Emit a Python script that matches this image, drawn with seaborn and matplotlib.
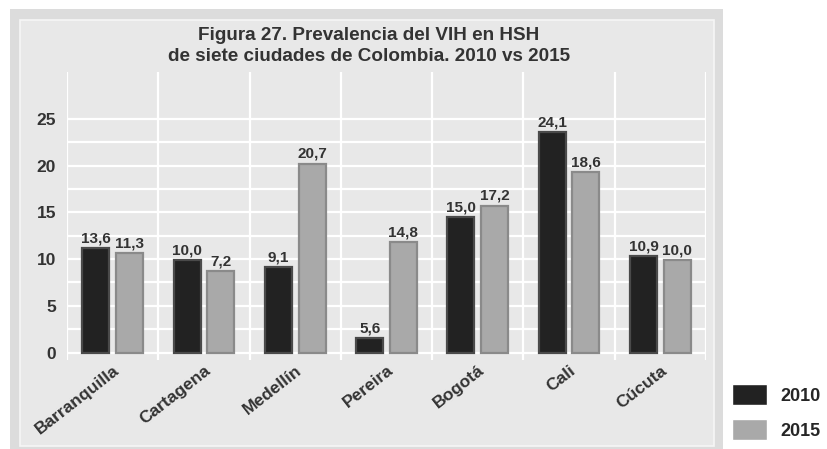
import numpy as np
import pandas as pd
import seaborn as sns
import matplotlib.pyplot as plt
from matplotlib.patches import Rectangle

# ----------------------------
# data
# ----------------------------
ciudades = ["Barranquilla", "Cartagena", "Medellín", "Pereira", "Bogotá", "Cali", "Cúcuta"]
anios = ["2010", "2015"]

# printed labels
etiquetas_2010 = ["13,6", "10,0", "9,1", "5,6", "15,0", "24,1", "10,9"]
etiquetas_2015 = ["11,3", "7,2", "20,7", "14,8", "17,2", "18,6", "10,0"]

# bar heights as drawn in the original (they don't match the labels)
alturas_2010 = [11.2, 9.9, 9.1, 1.5, 14.5, 23.6, 10.3]
alturas_2015 = [10.6, 8.7, 20.2, 11.8, 15.7, 19.3, 9.9]

colores = ["#222222", "#a9a9a9"]
bordes = ["#4a4a4a", "#8a8a8a"]

df = pd.DataFrame({
    "ciudad": ciudades * 2,
    "anio": [anios[0]] * len(ciudades) + [anios[1]] * len(ciudades),
    "valor": alturas_2010 + alturas_2015,
})

sns.set_style("white")
plt.rcParams["font.family"] = ["Liberation Sans", "DejaVu Sans"]
plt.rcParams["font.weight"] = "bold"

W, H = 827, 449
fig = plt.figure(figsize=(W / 100, H / 100), dpi=100)

# outer and inner grey panels
fig.patches.append(Rectangle((10 / W, 0), 713 / W, 1 - 9 / H, transform=fig.transFigure,
                             facecolor="#dcdcdc", edgecolor="none", zorder=-3))
fig.patches.append(Rectangle((20 / W, 3 / H), 694 / W, 1 - 23 / H, transform=fig.transFigure,
                             facecolor="#e8e8e8", edgecolor="#f6f6f6", lw=1.2, zorder=-2))

ax = fig.add_axes([67 / W, (H - 360) / H, 639 / W, 288 / H])
ax.set_facecolor("none")

sns.barplot(data=df, x="ciudad", y="valor", hue="anio", palette=colores,
            width=0.74, gap=0.2, ax=ax, zorder=3)

for cont, ec in zip(ax.containers, bordes):
    for b in cont:
        b.set_edgecolor(ec)
        b.set_linewidth(1.6)

for cont, labs in zip(ax.containers, [etiquetas_2010, etiquetas_2015]):
    ax.bar_label(cont, labels=labs, padding=2, fontsize=11, fontweight="bold", color="#333333")

ax.set_xlim(-0.5, len(ciudades) - 0.5)
ax.set_ylim(-0.8, 30)
ax.set_yticks(np.arange(0, 26, 5))
ax.set_yticks(np.arange(2.5, 25, 5), minor=True)
ax.set_xticks(np.arange(-0.5, len(ciudades) - 0.4, 1), minor=True)
ax.grid(True, axis="y", which="both", color="white", lw=1.6, zorder=0)
ax.grid(True, axis="x", which="minor", color="white", lw=1.6, zorder=0)
ax.grid(False, axis="x", which="major")
ax.set_axisbelow(True)
for s in ax.spines.values():
    s.set_visible(False)

ax.tick_params(axis="both", which="both", length=0)
ax.tick_params(axis="y", pad=8, labelsize=12.5, labelcolor="#333333")
ax.tick_params(axis="x", pad=2, labelsize=12.5, labelcolor="#333333")
plt.setp(ax.get_xticklabels(), rotation=38, ha="right", rotation_mode="anchor", fontweight="bold")
plt.setp(ax.get_yticklabels(), fontweight="bold")
ax.set_xlabel("")
ax.set_ylabel("")

fig.text(369 / W, 1 - 46 / H, "Figura 27. Prevalencia del VIH en HSH\nde siete ciudades de Colombia. 2010 vs 2015",
         ha="center", va="center", fontsize=13.6, fontweight="bold", color="#333333", linespacing=1.32)

handles, labels = ax.get_legend_handles_labels()
ax.get_legend().remove()
fig.legend(handles, labels, loc="upper left", bbox_to_anchor=(732 / W, 1 - 384 / H),
           frameon=False, borderpad=0, borderaxespad=0, handlelength=1.95, handleheight=1.45,
           labelspacing=0.75, handletextpad=0.75, prop={"weight": "bold", "size": 13})

fig.savefig("out.png", dpi=100)
